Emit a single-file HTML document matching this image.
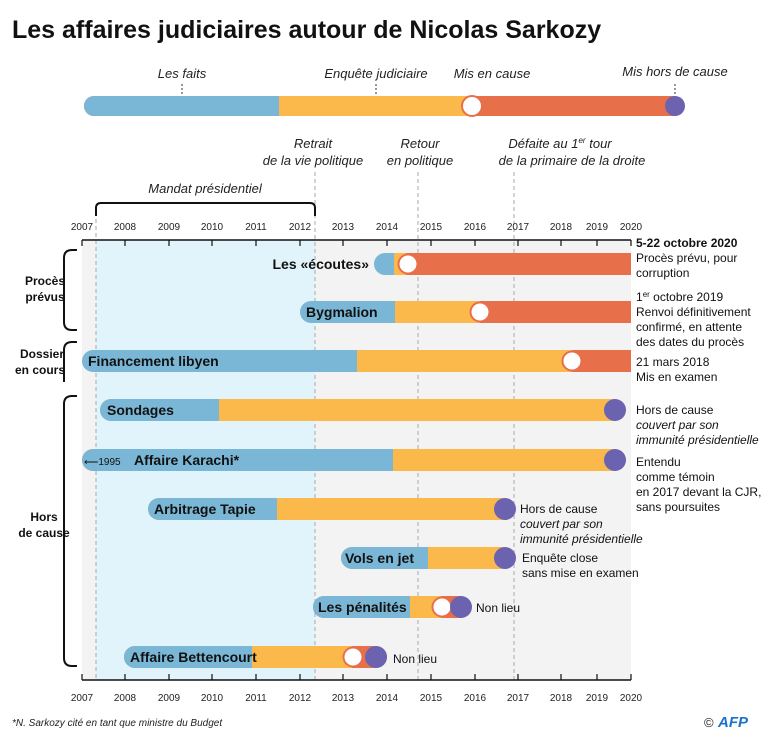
<!DOCTYPE html><html><head><meta charset="utf-8"><style>body{margin:0;background:#fff}svg text{font-family:"Liberation Sans",sans-serif}</style></head><body>
<svg width="768" height="739" viewBox="0 0 768 739" xmlns="http://www.w3.org/2000/svg">
<text x="12" y="38" font-size="25" font-weight="bold" fill="#111">Les affaires judiciaires autour de Nicolas Sarkozy</text>
<g font-size="13" font-style="italic" fill="#222" text-anchor="middle">
<text x="182" y="78">Les faits</text><text x="376" y="78">Enquête judiciaire</text><text x="492" y="78">Mis en cause</text><text x="675" y="76">Mis hors de cause</text>
<text x="313" y="148">Retrait</text><text x="313" y="165">de la vie politique</text>
<text x="420" y="148">Retour</text><text x="420" y="165">en politique</text>
<text x="560" y="148">Défaite au 1<tspan font-size="8" dy="-5">er</tspan><tspan dy="5"> tour</tspan></text><text x="572" y="165">de la primaire de la droite</text>
<text x="205" y="193">Mandat présidentiel</text>
</g>
<g stroke="#333" stroke-dasharray="2,2"><line x1="182" y1="84" x2="182" y2="100"/><line x1="376" y1="84" x2="376" y2="100"/><line x1="675" y1="84" x2="675" y2="98"/></g>
<rect x="84" y="96" width="600" height="20" rx="10" fill="#e7704b"/>
<path d="M94 96H279V116H94A10 10 0 0 1 94 96Z" fill="#7ab6d5"/>
<rect x="279" y="96" width="193" height="20" fill="#fbb84b"/>
<circle cx="472" cy="106" r="10" fill="#fff" stroke="#e7704b" stroke-width="2"/>
<circle cx="675" cy="106" r="10" fill="#6b62b0"/>
<rect x="82" y="240" width="549" height="440" fill="#f3f3f3"/>
<rect x="96" y="240" width="219" height="440" fill="#e1f3fb"/>
<g stroke="#aaa" stroke-dasharray="4,3"><line x1="96" y1="212" x2="96" y2="680"/><line x1="315" y1="172" x2="315" y2="680"/><line x1="418" y1="172" x2="418" y2="680"/><line x1="514" y1="172" x2="514" y2="680"/></g>
<path d="M96 216V208Q96 203 101 203H310Q315 203 315 208V216" fill="none" stroke="#111" stroke-width="2"/>
<g stroke="#111" stroke-width="1.5"><line x1="82" y1="240" x2="631" y2="240"/><line x1="82" y1="680" x2="631" y2="680"/></g>
<g font-size="10" fill="#222" text-anchor="middle" id="ax">
<text x="82" y="230">2007</text><text x="125" y="230">2008</text><text x="169" y="230">2009</text><text x="212" y="230">2010</text><text x="256" y="230">2011</text><text x="300" y="230">2012</text><text x="343" y="230">2013</text><text x="387" y="230">2014</text><text x="431" y="230">2015</text><text x="475" y="230">2016</text><text x="518" y="230">2017</text><text x="561" y="230">2018</text><text x="597" y="230">2019</text><text x="631" y="230">2020</text>
<text x="82" y="701">2007</text><text x="125" y="701">2008</text><text x="169" y="701">2009</text><text x="212" y="701">2010</text><text x="256" y="701">2011</text><text x="300" y="701">2012</text><text x="343" y="701">2013</text><text x="387" y="701">2014</text><text x="431" y="701">2015</text><text x="475" y="701">2016</text><text x="518" y="701">2017</text><text x="561" y="701">2018</text><text x="597" y="701">2019</text><text x="631" y="701">2020</text>
</g>
<g stroke="#111" stroke-width="1.2">
<path d="M82 240v6M125 240v6M169 240v6M212 240v6M256 240v6M300 240v6M343 240v6M387 240v6M431 240v6M475 240v6M518 240v6M561 240v6M597 240v6M631 240v6"/>
<path d="M82 680v-6M125 680v-6M169 680v-6M212 680v-6M256 680v-6M300 680v-6M343 680v-6M387 680v-6M431 680v-6M475 680v-6M518 680v-6M561 680v-6M597 680v-6M631 680v-6"/>
</g>
<g fill="none" stroke="#111" stroke-width="2">
<path d="M77 250H72Q64 250 64 258V322Q64 330 72 330H77"/>
<path d="M77 342H72Q64 342 64 350V382"/>
<path d="M77 396H72Q64 396 64 404V658Q64 666 72 666H77"/>
</g>
<g font-size="12" font-weight="bold" fill="#111" text-anchor="middle">
<text x="45" y="285">Procès</text><text x="45" y="301">prévus</text>
<text x="42" y="358">Dossier</text><text x="40" y="374">en cours</text>
<text x="44" y="521">Hors</text><text x="44" y="537">de cause</text>
</g>
<!-- bars -->
<g>
<rect x="374" y="253" width="257" height="22" rx="11" fill="#7ab6d5"/><rect x="394" y="253" width="237" height="22" fill="#e7704b"/><rect x="394" y="253" width="12" height="22" fill="#fbb84b"/><circle cx="408" cy="264" r="9.5" fill="#fff" stroke="#e7704b" stroke-width="2"/>
<rect x="300" y="301" width="331" height="22" rx="11" fill="#7ab6d5"/><rect x="395" y="301" width="236" height="22" fill="#e7704b"/><rect x="395" y="301" width="85" height="22" fill="#fbb84b"/><circle cx="480" cy="312" r="9.5" fill="#fff" stroke="#e7704b" stroke-width="2"/>
<rect x="82" y="350" width="549" height="22" rx="11" fill="#7ab6d5"/><rect x="357" y="350" width="274" height="22" fill="#e7704b"/><rect x="357" y="350" width="215" height="22" fill="#fbb84b"/><circle cx="572" cy="361" r="9.5" fill="#fff" stroke="#e7704b" stroke-width="2"/>
<rect x="100" y="399" width="525" height="22" rx="11" fill="#fbb84b"/><path d="M111 399H219V421H111A11 11 0 0 1 111 399Z" fill="#7ab6d5"/><circle cx="615" cy="410" r="11" fill="#6b62b0"/>
<rect x="82" y="449" width="543" height="22" rx="11" fill="#fbb84b"/><path d="M93 449H393V471H93A11 11 0 0 1 93 449Z" fill="#7ab6d5"/><circle cx="615" cy="460" r="11" fill="#6b62b0"/>
<rect x="148" y="498" width="367" height="22" rx="11" fill="#fbb84b"/><path d="M159 498H277V520H159A11 11 0 0 1 159 498Z" fill="#7ab6d5"/><circle cx="505" cy="509" r="11" fill="#6b62b0"/>
<rect x="341" y="547" width="174" height="22" rx="11" fill="#fbb84b"/><path d="M352 547H428V569H352A11 11 0 0 1 352 547Z" fill="#7ab6d5"/><circle cx="505" cy="558" r="11" fill="#6b62b0"/>
<rect x="313" y="596" width="158" height="22" rx="11" fill="#e7704b"/><path d="M324 596H410V618H324A11 11 0 0 1 324 596Z" fill="#7ab6d5"/><rect x="410" y="596" width="31" height="22" fill="#fbb84b"/><circle cx="442" cy="607" r="9.5" fill="#fff" stroke="#e7704b" stroke-width="2"/><circle cx="461" cy="607" r="11" fill="#6b62b0"/>
<rect x="124" y="646" width="263" height="22" rx="11" fill="#e7704b"/><path d="M135 646H252V668H135A11 11 0 0 1 135 646Z" fill="#7ab6d5"/><rect x="252" y="646" width="100" height="22" fill="#fbb84b"/><circle cx="353" cy="657" r="9.5" fill="#fff" stroke="#e7704b" stroke-width="2"/><circle cx="376" cy="657" r="11" fill="#6b62b0"/>
</g>
<g font-size="14" font-weight="bold" fill="#111">
<text x="369" y="269" text-anchor="end">Les «écoutes»</text>
<text x="306" y="317">Bygmalion</text>
<text x="88" y="366">Financement libyen</text>
<text x="107" y="415">Sondages</text>
<text x="134" y="465">Affaire Karachi*</text>
<text x="154" y="514">Arbitrage Tapie</text>
<text x="345" y="563">Vols en jet</text>
<text x="318" y="612">Les pénalités</text>
<text x="130" y="662">Affaire Bettencourt</text>
</g>
<text x="84" y="465" font-size="10" fill="#111">⟵1995</text>
<g font-size="12" fill="#111">
<text x="636" y="247" font-weight="bold">5-22 octobre 2020</text><text x="636" y="262">Procès prévu, pour</text><text x="636" y="277">corruption</text>
<text x="636" y="301">1<tspan font-size="8" dy="-4">er</tspan><tspan dy="4"> octobre 2019</tspan></text><text x="636" y="316">Renvoi définitivement</text><text x="636" y="331">confirmé, en attente</text><text x="636" y="346">des dates du procès</text>
<text x="636" y="366">21 mars 2018</text><text x="636" y="381">Mis en examen</text>
<text x="636" y="414">Hors de cause</text><text x="636" y="429" font-style="italic">couvert par son</text><text x="636" y="444" font-style="italic">immunité présidentielle</text>
<text x="636" y="466">Entendu</text><text x="636" y="481">comme témoin</text><text x="636" y="496">en 2017 devant la CJR,</text><text x="636" y="511">sans poursuites</text>
<text x="520" y="513">Hors de cause</text><text x="520" y="528" font-style="italic">couvert par son</text><text x="520" y="543" font-style="italic">immunité présidentielle</text>
<text x="522" y="562">Enquête close</text><text x="522" y="577">sans mise en examen</text>
<text x="476" y="612">Non lieu</text>
<text x="393" y="663">Non lieu</text>
</g>
<text x="12" y="726" font-size="10" font-style="italic" fill="#222">*N. Sarkozy cité en tant que ministre du Budget</text>
<text x="704" y="727" font-size="13" fill="#222">©</text>
<text x="718" y="727" font-size="15" font-weight="bold" font-style="italic" fill="#1a73c8">AFP</text>
</svg>
</body></html>
